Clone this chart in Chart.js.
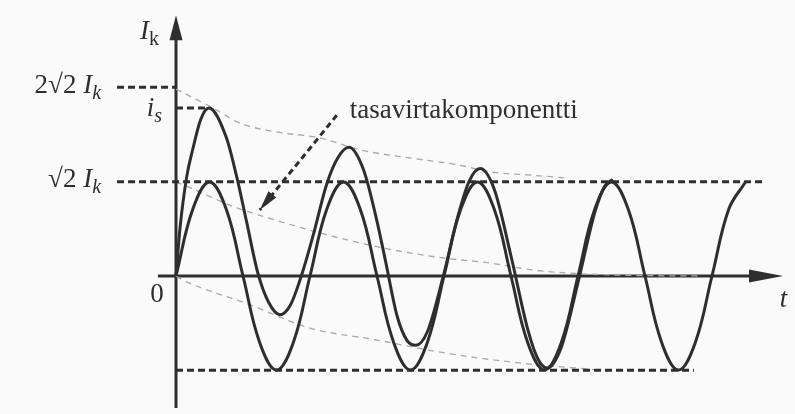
<!DOCTYPE html>
<html>
<head>
<meta charset="utf-8">
<script src="https://cdn.jsdelivr.net/npm/chart.js@4.4.1/dist/chart.umd.min.js"></script>
<style>
  html, body { margin: 0; padding: 0; background: #fafafa; }
  canvas { display: block; }
</style>
</head>
<body>
<canvas id="shortCircuit" width="795" height="414"></canvas>
<script>
// time in ms, current in units of I_k
const SQRT2 = Math.SQRT2;

// steady-state ac component
const acTime = [0, 2.5, 5, 7.5, 10, 12.5, 15, 17.5, 20, 22.5, 25, 27.5, 30, 32.5, 35, 37.5,
  40, 42.5, 45, 47.5, 50, 52.5, 55, 57.5, 60, 62.5, 65, 67.5, 70, 72.5, 75, 77.5, 80, 82.5, 85];
const acCurrent = [0, 1.0, 1.41, 1.0, 0, -1.0, -1.41, -1.0, 0, 1.0, 1.41, 1.0, 0, -1.0, -1.41, -1.0,
  0, 1.0, 1.41, 1.0, 0, -1.0, -1.41, -1.0, 0, 1.0, 1.41, 1.0, 0, -1.0, -1.41, -1.0, 0, 1.0, 1.41];

// asymmetric short-circuit current
const scTime = [0, 0.6, 1.6, 2.5, 3.7, 4.9, 7.5, 9.1, 10.5, 12.2, 13.8, 15.5, 17.1, 18.7, 20.5, 22.5,
  24.2, 25.8, 28, 30, 31.3, 33, 34.5, 35.8, 37.5, 39.9, 42, 43.8, 45.4, 47.5, 50, 52.5, 54, 55.4,
  57.5, 60, 62.5, 64, 65.2];
const scCurrent = [0, 0.72, 1.49, 1.9, 2.35, 2.52, 2.08, 1.47, 0.83, 0.05, -0.39, -0.58, -0.43, 0, 0.62, 1.38,
  1.78, 1.93, 1.59, 0.82, 0.21, -0.6, -0.97, -1.04, -0.84, 0, 0.87, 1.43, 1.61, 1.3, 0.3, -0.8, -1.24, -1.38,
  -1.07, -0.1, 0.95, 1.35, 1.45];

// envelopes and the decaying dc component
const upperTime = [0, 5.5, 9.6, 15, 21.5, 27.5, 34.9, 42.4, 46.9, 53.3, 58];
const upperCurrent = [2.8, 2.52, 2.29, 2.16, 2.07, 1.89, 1.77, 1.66, 1.56, 1.51, 1.47];
const dcTime = [0, 1.0, 9.1, 12.5, 21.5, 30.9, 39.9, 46.9, 53.3, 65.2, 78];
const dcCurrent = [1.41, 1.37, 1.02, 0.91, 0.645, 0.42, 0.27, 0.195, 0.09, 0.015, 0];
const lowerTime = [0, 1.0, 11, 20, 30, 39.9, 50.9, 63.3];
const lowerCurrent = [0, -0.06, -0.43, -0.78, -0.96, -1.15, -1.30, -1.41];

// dashed reference levels
const levelValue = [2 * SQRT2, 2.52, SQRT2, -SQRT2];
const levelFrom = [-8.8, 0, -8.8, 0];
const levelTo = [0, 4.9, 87.6, 77.3];

// pointer to the dc component: [start, tip]
const pointerTime = [24.0, 12.5];
const pointerCurrent = [2.41, 0.99];
const pointerText = 'tasavirtakomponentti';

const INK = '#2e2e2e';
const SERIF = '"Liberation Serif", "DejaVu Serif", serif';

function toPoints(ts, vs) {
  return ts.map((t, i) => ({ x: t, y: vs[i] }));
}

const curve = (data, mode) => ({
  data, borderColor: INK, borderWidth: 3, pointRadius: 0, fill: false,
  tension: 0.4, cubicInterpolationMode: mode, order: 0
});
const faint = (data) => ({
  data, borderColor: '#a9a9a9', borderWidth: 1.3, borderDash: [6, 5], pointRadius: 0,
  fill: false, cubicInterpolationMode: 'monotone', order: 2
});
const level = (i) => ({
  data: [{ x: levelFrom[i], y: levelValue[i] }, { x: levelTo[i], y: levelValue[i] }],
  borderColor: INK, borderWidth: 3, borderDash: [7, 4], pointRadius: 0, tension: 0, order: 1
});

function font(p) {
  const size = p.sub ? 20 : 27;
  return (p.italic ? 'italic ' : '') + size + 'px ' + SERIF;
}

function drawParts(ctx, parts, x, y, align) {
  const widths = parts.map(p => { ctx.font = font(p); return ctx.measureText(p.text).width; });
  const total = widths.reduce((a, b) => a + b, 0);
  let cx = align === 'right' ? x - total : (align === 'center' ? x - total / 2 : x);
  ctx.textAlign = 'left';
  ctx.textBaseline = 'alphabetic';
  parts.forEach((p, i) => {
    ctx.font = font(p);
    ctx.fillText(p.text, cx, y + (p.sub ? 6 : 0));
    cx += widths[i];
  });
}

function arrowHead(ctx, fromX, fromY, tipX, tipY, len, half) {
  const a = Math.atan2(tipY - fromY, tipX - fromX);
  ctx.beginPath();
  ctx.moveTo(tipX, tipY);
  ctx.lineTo(tipX - len * Math.cos(a) + half * Math.sin(a), tipY - len * Math.sin(a) - half * Math.cos(a));
  ctx.lineTo(tipX - len * Math.cos(a) - half * Math.sin(a), tipY - len * Math.sin(a) + half * Math.cos(a));
  ctx.closePath();
  ctx.fill();
}

const axesPlugin = {
  id: 'axes',
  beforeDatasetsDraw(chart) {
    const { ctx, scales: { x, y } } = chart;
    const x0 = x.getPixelForValue(0), y0 = y.getPixelForValue(0);
    const xEnd = x.getPixelForValue(90.6), yTop = y.getPixelForValue(3.91);
    ctx.save();
    ctx.strokeStyle = INK;
    ctx.fillStyle = INK;
    ctx.lineWidth = 3;
    ctx.beginPath();
    ctx.moveTo(x.getPixelForValue(-2.7), y0);
    ctx.lineTo(xEnd - 20, y0);
    ctx.moveTo(x0, y.getPixelForValue(-1.98));
    ctx.lineTo(x0, yTop + 15);
    ctx.stroke();
    arrowHead(ctx, x0, y0, xEnd, y0, 34, 6.5);
    arrowHead(ctx, x0, y0, x0, yTop, 25, 6.5);
    ctx.restore();
  },
  afterDatasetsDraw(chart) {
    const { ctx, scales: { x, y } } = chart;
    const x0 = x.getPixelForValue(0), y0 = y.getPixelForValue(0);
    ctx.save();
    ctx.fillStyle = INK;

    // pointer arrowhead and its text
    const sx = x.getPixelForValue(pointerTime[0]), sy = y.getPixelForValue(pointerCurrent[0]);
    const tx = x.getPixelForValue(pointerTime[1]), ty = y.getPixelForValue(pointerCurrent[1]);
    arrowHead(ctx, sx, sy, tx, ty, 20, 5);
    drawParts(ctx, [{ text: pointerText }], sx + 13, sy + 3, 'left');

    // level labels
    const leftEdge = x.getPixelForValue(levelFrom[0]) - 16;
    drawParts(ctx, [{ text: '2\u221A2 ' }, { text: 'I', italic: true }, { text: 'k', italic: true, sub: true }],
      leftEdge, y.getPixelForValue(levelValue[0]) + 6, 'right');
    drawParts(ctx, [{ text: '\u221A2 ' }, { text: 'I', italic: true }, { text: 'k', italic: true, sub: true }],
      leftEdge, y.getPixelForValue(levelValue[2]) + 5, 'right');
    drawParts(ctx, [{ text: 'i', italic: true }, { text: 's', italic: true, sub: true }],
      x0 - 14, y.getPixelForValue(levelValue[1]) + 8, 'right');

    // axis labels
    drawParts(ctx, [{ text: 'I', italic: true }, { text: 'k', sub: true }], x0 - 17, 39, 'right');
    drawParts(ctx, [{ text: '0' }], x0 - 19, y0 + 26, 'center');
    drawParts(ctx, [{ text: 't', italic: true }], x.getPixelForValue(90.1), y0 + 31, 'left');
    ctx.restore();
  }
};

new Chart(document.getElementById('shortCircuit'), {
  type: 'line',
  data: {
    datasets: [
      curve(toPoints(scTime, scCurrent), 'monotone'),
      curve(toPoints(acTime, acCurrent), 'default'),
      level(0), level(1), level(2), level(3),
      {
        data: toPoints(pointerTime, pointerCurrent),
        borderColor: INK, borderWidth: 3, borderDash: [6, 4], pointRadius: 0, tension: 0, order: 1
      },
      faint(toPoints(upperTime, upperCurrent)),
      faint(toPoints(dcTime, dcCurrent)),
      faint(toPoints(lowerTime, lowerCurrent))
    ]
  },
  options: {
    responsive: false,
    animation: false,
    events: [],
    layout: { padding: 0 },
    plugins: { legend: { display: false }, tooltip: { enabled: false } },
    scales: {
      x: { type: 'linear', min: -26.27, max: 92.39, display: false },
      y: { type: 'linear', min: -2.069, max: 4.138, display: false }
    }
  },
  plugins: [axesPlugin]
});
</script>
</body>
</html>
